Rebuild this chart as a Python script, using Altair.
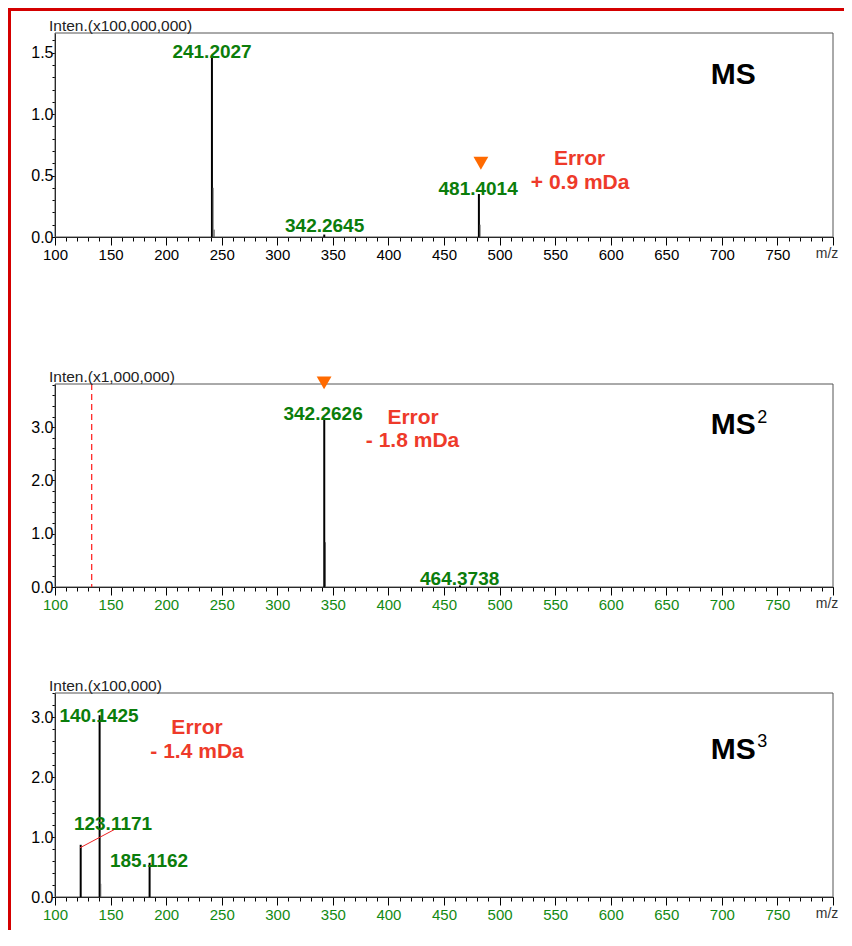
import altair as alt
import pandas as pd

FONT = "Liberation Sans"
GREEN = "#0b7d0b"
TICKGREEN = "#138a13"
RED = "#ee3a2a"
ORANGE = "#ff6a00"
BORDER = "#d40000"

# ---------------- data ----------------
x_major = list(range(100, 801, 50))
x_minor = list(range(100, 801, 10))

# MS (x100,000,000)
ms1_mz = [241.2027, 481.4014, 342.2645]
ms1_int = [1.46, 0.35, 0.02]
ms1_iso_mz = [242.21, 243.21, 482.41]
ms1_iso_int = [0.40, 0.06, 0.10]
ms1_lab_text = ["241.2027", "342.2645", "481.4014"]
ms1_lab_mz = [241.3, 342.6, 480.7]
ms1_lab_int = [1.455, 0.04, 0.34]
ms1_err_text = ["Error", "+ 0.9 mDa"]
ms1_err_mz = [572.0, 572.5]
ms1_err_int = [0.634, 0.44]
ms1_tri_mz = [483.2]
ms1_tri_int = [0.60]

# MS2 (x1,000,000)
ms2_mz = [342.2626, 464.3738]
ms2_int = [3.17, 0.03]
ms2_iso_mz = [343.27]
ms2_iso_int = [0.84]
ms2_lab_text = ["342.2626", "464.3738"]
ms2_lab_mz = [341.2, 464.1]
ms2_lab_int = [3.13, 0.04]
ms2_err_text = ["Error", "- 1.8 mDa"]
ms2_err_mz = [422.2, 421.7]
ms2_err_int = [3.17, 2.74]
ms2_tri_mz = [342.1]
ms2_tri_int = [3.83]
ms2_cutoff = [133.0]

# MS3 (x100,000)
ms3_mz = [123.1171, 140.1425, 185.1162]
ms3_int = [0.87, 3.03, 0.57]
ms3_iso_mz = [141.15]
ms3_iso_int = [0.22]
ms3_lab_text = ["140.1425", "123.1171", "185.1162"]
ms3_lab_mz = [139.6, 152.2, 184.6]
ms3_lab_int = [2.92, 1.12, 0.50]
ms3_err_text = ["Error", "- 1.4 mDa"]
ms3_err_mz = [227.8, 227.8]
ms3_err_int = [2.82, 2.42]
ms3_leader = {"mz": [122.5], "inten": [0.82], "mz2": [154.0], "inten2": [1.13]}

W = 778
GAP = 106


def one():
    return pd.DataFrame({"a": [0]})


def make_panel(plot_h, cell_h, ymax, y_major, y_minor, tick_color, scale_label,
               pk_mz, pk_int, iso_mz, iso_int, lab_text, lab_mz, lab_int,
               err_text, err_mz, err_int, title_int, sup_text, sup_int,
               tri_mz, tri_int, border=False, extras=()):
    off = plot_h - cell_h  # move x axes up when the cell is taller than the plot
    xs = alt.Scale(domain=[100, 800], nice=False, zero=False)
    ys = alt.Scale(domain=[0, ymax], nice=False, zero=True, range=[plot_h, 0])

    xax = alt.Axis(values=x_major, tickSize=8, labelPadding=2, labelFontSize=15,
                   labelColor=tick_color, labelFont=FONT,
                   labelExpr="datum.value >= 800 ? '' : datum.label",
                   labelFlush=False, labelOverlap=False, domainColor="black",
                   tickColor="black", grid=False, title=None, orient="bottom",
                   offset=off)
    yax = alt.Axis(values=y_major, format=".1f", tickSize=3, labelPadding=-1,
                   labelFontSize=16, labelColor="black", labelFont=FONT,
                   domainColor="black", tickColor="black", grid=False,
                   title=None, orient="left", labelFlush=False, labelOverlap=False)
    xminor = alt.Axis(values=x_minor, tickSize=4, labels=False, domain=False,
                      tickColor="black", grid=False, title=None, orient="bottom",
                      offset=off)
    yminor = alt.Axis(values=y_minor, tickSize=3, labels=False, domain=False,
                      tickColor="black", grid=False, title=None, orient="left")

    X = lambda f="mz": alt.X(f"{f}:Q", scale=xs, axis=None)
    Y = lambda f="inten": alt.Y(f"{f}:Q", scale=ys, axis=None)

    layers = []
    # plot frame, drawn through the scales
    layers.append(
        alt.Chart(one()).mark_rect(filled=False, stroke="#555555", strokeWidth=1)
        .encode(x=alt.X(datum=100, scale=xs, axis=None), x2=alt.X2(datum=800),
                y=alt.Y(datum=0, scale=ys, axis=None), y2=alt.Y2(datum=ymax)))
    layers.append(
        alt.Chart(pd.DataFrame({"mz": pk_mz, "inten": pk_int}))
        .mark_rule(color="black", strokeWidth=2)
        .encode(x=alt.X("mz:Q", scale=xs, axis=xax),
                y=alt.Y("inten:Q", scale=ys, axis=yax),
                y2=alt.datum(0)))
    layers.append(
        alt.Chart(pd.DataFrame({"mz": [100.0], "inten": [0.0]}))
        .mark_point(opacity=0)
        .encode(x=alt.X("mz:Q", scale=xs, axis=xminor),
                y=alt.Y("inten:Q", scale=ys, axis=yminor)))
    layers.append(
        alt.Chart(pd.DataFrame({"mz": iso_mz, "inten": iso_int}))
        .mark_rule(color="#555555", strokeWidth=1)
        .encode(x=X(), y=Y(), y2=alt.datum(0)))
    for ex in extras:
        layers.append(ex(X, Y, plot_h))
    layers.append(
        alt.Chart(pd.DataFrame({"mz": lab_mz, "inten": lab_int, "t": lab_text}))
        .mark_text(font=FONT, fontSize=19, fontWeight="bold", color=GREEN,
                   baseline="alphabetic", align="center")
        .encode(x=X(), y=Y(), text="t:N"))
    layers.append(
        alt.Chart(pd.DataFrame({"mz": err_mz, "inten": err_int, "t": err_text}))
        .mark_text(font=FONT, fontSize=21, fontWeight="bold", color=RED,
                   baseline="middle", align="center")
        .encode(x=X(), y=Y(), text="t:N"))
    layers.append(
        alt.Chart(pd.DataFrame({"mz": [710.2], "inten": [title_int], "t": ["MS"]}))
        .mark_text(font=FONT, fontSize=30, fontWeight="bold", color="black",
                   baseline="middle", align="center")
        .encode(x=X(), y=Y(), text="t:N"))
    if sup_text:
        layers.append(
            alt.Chart(pd.DataFrame({"mz": [736.3], "inten": [sup_int], "t": [sup_text]}))
            .mark_text(font=FONT, fontSize=18, color="black",
                       baseline="middle", align="center")
            .encode(x=X(), y=Y(), text="t:N"))
    if tri_mz:
        layers.append(
            alt.Chart(pd.DataFrame({"mz": tri_mz, "inten": tri_int}))
            .mark_point(shape="triangle-down", filled=True, color=ORANGE,
                        size=220, opacity=1)
            .encode(x=X(), y=Y()))
    layers.append(
        alt.Chart(one()).mark_text(font=FONT, fontSize=15.5, color="#222222",
                                   align="left", baseline="alphabetic")
        .encode(x=alt.value(-6), y=alt.value(-2), text=alt.value(scale_label)))
    layers.append(
        alt.Chart(one()).mark_text(font=FONT, fontSize=14, color="#333333",
                                   align="center", baseline="middle")
        .encode(x=alt.value(772), y=alt.value(plot_h + 17), text=alt.value("m/z")))
    if border:
        # red frame around the figure (left edge runs down the whole page)
        layers.append(
            alt.Chart(one()).mark_rect(color=BORDER)
            .encode(x=alt.value(-47), x2=alt.value(-44),
                    y=alt.value(-25), y2=alt.value(897)))
        layers.append(
            alt.Chart(one()).mark_rect(color=BORDER)
            .encode(x=alt.value(-47), x2=alt.value(789),
                    y=alt.value(-25), y2=alt.value(-22)))

    return (alt.layer(*layers)
            .properties(width=W, height=cell_h)
            .resolve_axis(x="independent", y="independent"))


def cutoff_line(X, Y, h):
    return (alt.Chart(pd.DataFrame({"mz": ms2_cutoff}))
            .mark_rule(color="#ff2a2a", strokeDash=[6, 4], strokeWidth=1.3)
            .encode(x=X(), y=alt.value(0), y2=alt.value(h)))


def leader_line(X, Y, h):
    return (alt.Chart(pd.DataFrame(ms3_leader))
            .mark_rule(color="#ee2222", strokeWidth=1)
            .encode(x=X(), y=Y(), x2="mz2:Q", y2="inten2:Q"))


p1 = make_panel(204, 204 + 41, 1.66, [0, 0.5, 1.0, 1.5],
                [round(i * 0.1, 1) for i in range(17)],
                "black", "Inten.(x100,000,000)",
                ms1_mz, ms1_int, ms1_iso_mz, ms1_iso_int,
                ms1_lab_text, ms1_lab_mz, ms1_lab_int,
                ms1_err_text, ms1_err_mz, ms1_err_int,
                1.32, None, None, ms1_tri_mz, ms1_tri_int, border=True)

p2 = make_panel(203, 203, 3.81, [0, 1.0, 2.0, 3.0],
                [round(i * 0.2, 1) for i in range(20)],
                TICKGREEN, "Inten.(x1,000,000)",
                ms2_mz, ms2_int, ms2_iso_mz, ms2_iso_int,
                ms2_lab_text, ms2_lab_mz, ms2_lab_int,
                ms2_err_text, ms2_err_mz, ms2_err_int,
                3.04, "2", 3.18, ms2_tri_mz, ms2_tri_int,
                extras=(cutoff_line,))

p3 = make_panel(204, 204, 3.4, [0, 1.0, 2.0, 3.0],
                [round(i * 0.2, 1) for i in range(18)],
                TICKGREEN, "Inten.(x100,000)",
                ms3_mz, ms3_int, ms3_iso_mz, ms3_iso_int,
                ms3_lab_text, ms3_lab_mz, ms3_lab_int,
                ms3_err_text, ms3_err_mz, ms3_err_int,
                2.45, "3", 2.58, None, None,
                extras=(leader_line,))

chart = (alt.vconcat(p1, p2, p3, spacing=GAP, bounds="flush")
         .properties(padding=0, background="white")
         .configure_view(stroke="transparent", strokeWidth=0)
         .configure_axis(labelFont=FONT))

chart.save("out.html", embed_options={"renderer": "svg", "actions": False})
